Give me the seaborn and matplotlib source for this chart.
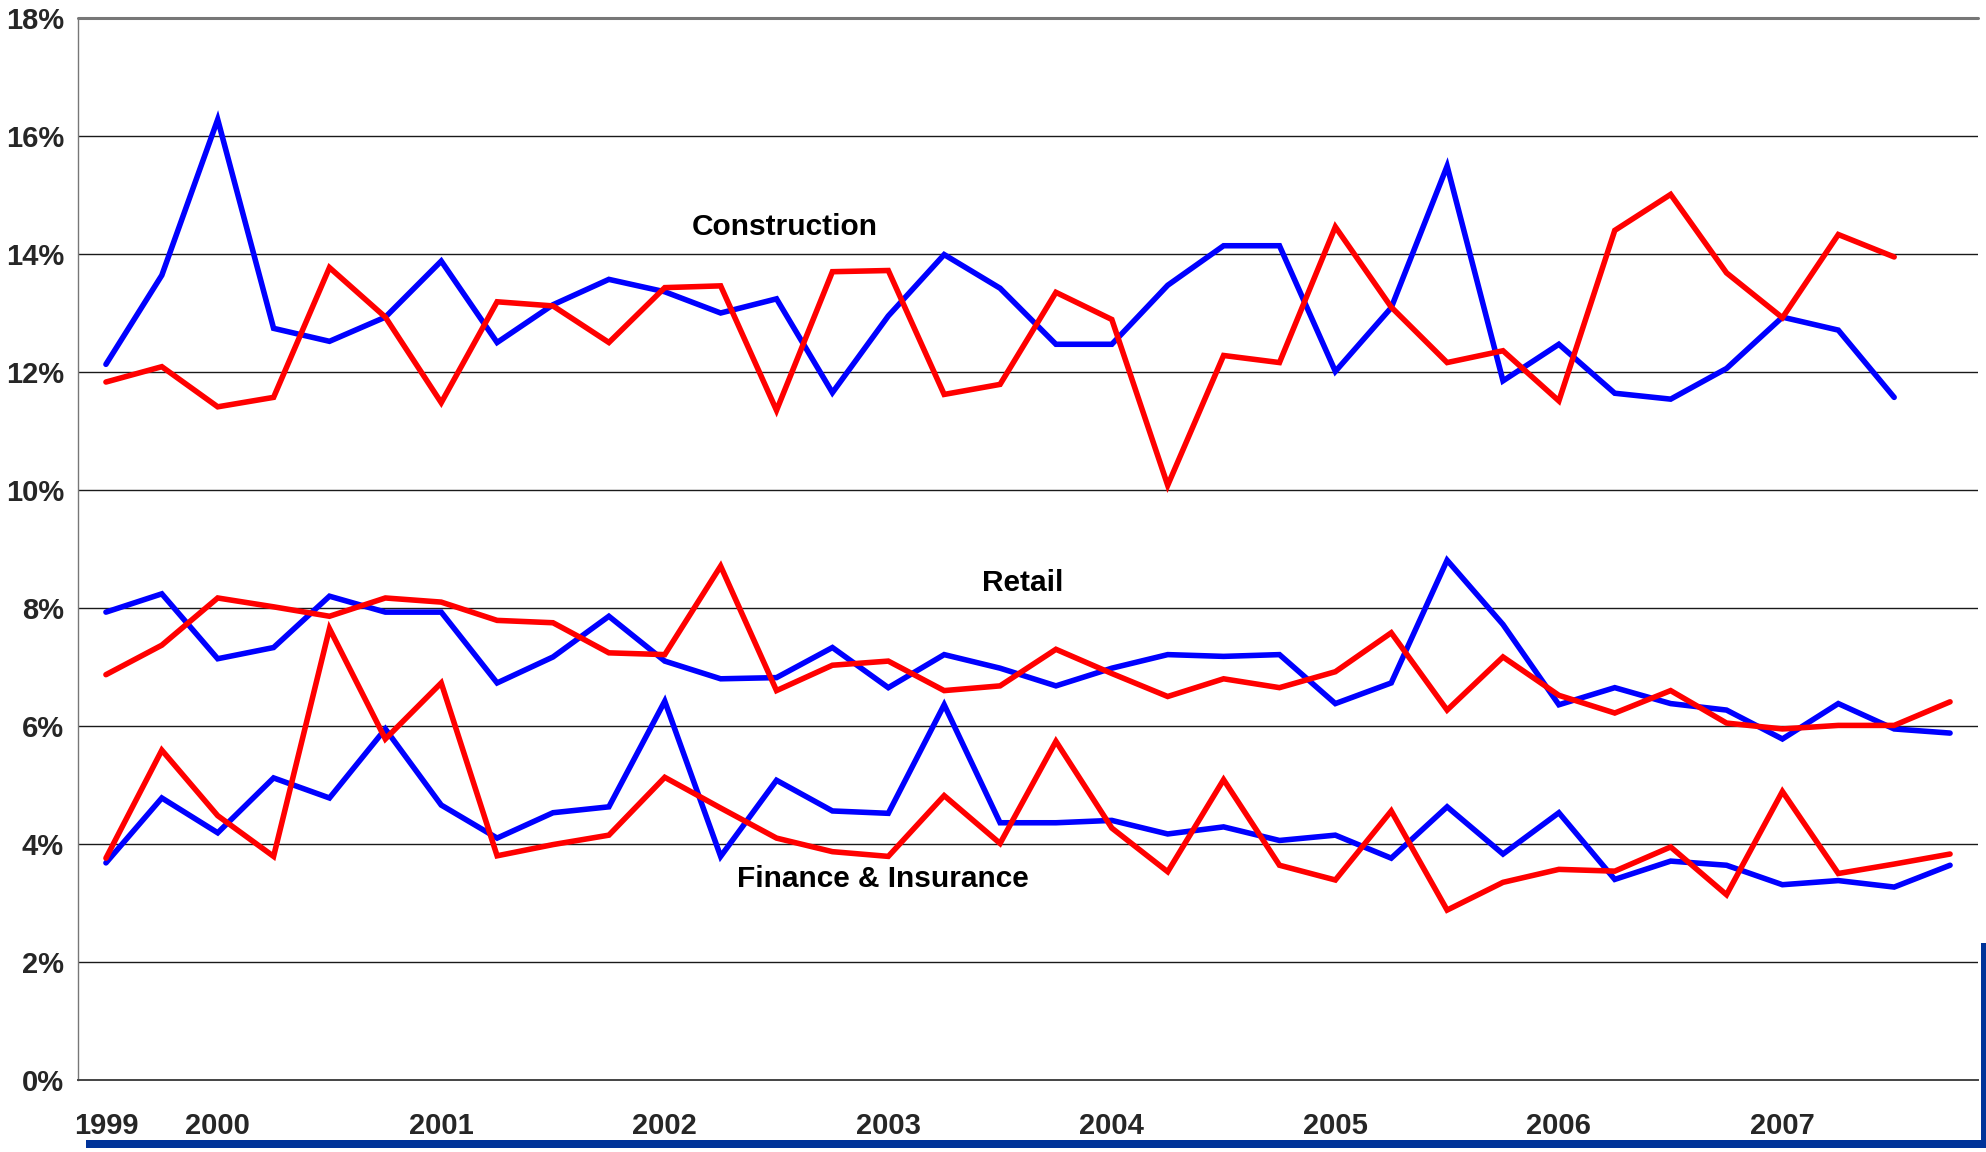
import matplotlib
matplotlib.use("Agg")
import matplotlib.pyplot as plt
from matplotlib.patches import Rectangle
import seaborn as sns
import numpy as np
import pandas as pd

# quarterly shares, 1999Q3 .. 2007Q4 (percent)
quarters = [f"{y}Q{q}" for y in range(1999, 2008) for q in range(1, 5)][2:]

constr_blue = [12.13, 13.64, 16.28, 12.74, 12.52, 12.93, 13.88, 12.50, 13.14, 13.57, 13.36,
               13.00, 13.24, 11.65, 12.95, 13.99, 13.42, 12.47, 12.47, 13.47, 14.14, 14.14,
               12.01, 13.09, 15.49, 11.85, 12.47, 11.64, 11.54, 12.06, 12.93, 12.71, 11.57]
constr_red = [11.83, 12.09, 11.41, 11.57, 13.77, 12.93, 11.48, 13.19, 13.12, 12.50, 13.43,
              13.46, 11.35, 13.70, 13.72, 11.62, 11.79, 13.35, 12.89, 10.08, 12.28, 12.16,
              14.46, 13.10, 12.16, 12.36, 11.51, 14.40, 15.01, 13.68, 12.92, 14.33, 13.95]

retail_blue = [7.93, 8.24, 7.14, 7.33, 8.20, 7.93, 7.93, 6.73, 7.17, 7.86, 7.10, 6.80,
               6.82, 7.33, 6.65, 7.21, 6.98, 6.68, 6.98, 7.21, 7.18, 7.21, 6.38, 6.73,
               8.81, 7.72, 6.36, 6.65, 6.38, 6.27, 5.78, 6.38, 5.95, 5.88]
retail_red = [6.87, 7.37, 8.17, 8.02, 7.86, 8.17, 8.10, 7.79, 7.75, 7.24, 7.21, 8.71,
              6.60, 7.03, 7.10, 6.60, 6.68, 7.30, 6.89, 6.50, 6.80, 6.65, 6.92, 7.58,
              6.27, 7.17, 6.52, 6.22, 6.60, 6.05, 5.95, 6.01, 6.01, 6.41]

fin_blue = [3.68, 4.78, 4.19, 5.12, 4.78, 5.95, 4.66, 4.10, 4.53, 4.63, 6.42, 3.79,
            5.08, 4.56, 4.52, 6.36, 4.36, 4.36, 4.40, 4.17, 4.29, 4.06, 4.15, 3.76,
            4.63, 3.83, 4.53, 3.40, 3.71, 3.64, 3.31, 3.38, 3.27, 3.64]
fin_red = [3.76, 5.59, 4.48, 3.79, 7.65, 5.78, 6.73, 3.80, 3.99, 4.15, 5.13, 4.61,
           4.10, 3.87, 3.79, 4.82, 4.01, 5.74, 4.27, 3.53, 5.09, 3.64, 3.39, 4.56,
           2.88, 3.35, 3.57, 3.54, 3.95, 3.14, 4.89, 3.50, 3.66, 3.83]

year_labels = ["1999", "2000", "2001", "2002", "2003", "2004", "2005", "2006", "2007"]
year_pos = [0, 2, 6, 10, 14, 18, 22, 26, 30]

BLUE = "#0000ff"
RED = "#ff0000"
NAVY = "#003399"

sns.set_style("white")
plt.rcParams["font.family"] = ["Liberation Sans", "DejaVu Sans"]
plt.rcParams["font.weight"] = "bold"

fig = plt.figure(figsize=(19.86, 11.52), dpi=100)
ax = fig.add_axes([78 / 1986, 1 - 1080 / 1152, 1900 / 1986, 1062 / 1152])

series = [(constr_blue, BLUE), (constr_red, RED),
          (retail_blue, BLUE), (retail_red, RED),
          (fin_blue, BLUE), (fin_red, RED)]
for vals, col in series:
    df = pd.DataFrame({"q": np.arange(len(vals)), "v": vals})
    sns.lineplot(data=df, x="q", y="v", color=col, linewidth=4.0, ax=ax,
                 solid_capstyle="round", solid_joinstyle="miter")

ax.set_xlim(-0.5, len(quarters) - 0.5)
ax.set_ylim(0, 18)
ax.set_xlabel("")
ax.set_ylabel("")

# horizontal grid
for g in range(2, 18, 2):
    ax.axhline(g, color="#1a1a1a", lw=1.0, zorder=0)
ax.axhline(18, color="#777777", lw=2.2, zorder=0, clip_on=False)

ax.set_yticks(range(0, 19, 2))
ax.set_yticklabels([f"{t}%" for t in range(0, 19, 2)], fontsize=21, fontweight="bold")
ax.tick_params(axis="y", direction="out", length=5, width=1, color="#555555", pad=5)

ax.set_xticks(np.arange(-0.5, len(quarters), 1))
ax.set_xticklabels([])
ax.set_xticks(year_pos, minor=True)
ax.set_xticklabels(year_labels, minor=True, fontsize=21, fontweight="bold")
ax.tick_params(axis="x", which="major", direction="out", length=7, width=1.2, color="#444444")
ax.tick_params(axis="x", which="minor", length=0, pad=23)

for s in ["top", "right"]:
    ax.spines[s].set_visible(False)
ax.spines["left"].set_color("#777777")
ax.spines["left"].set_linewidth(1)
ax.spines["bottom"].set_color("#444444")
ax.spines["bottom"].set_linewidth(1.4)

txt = dict(fontsize=21.5, fontweight="bold", ha="center", va="center", color="black")
ax.text(12.15, 14.45, "Construction", **txt)
ax.text(16.4, 8.42, "Retail", **txt)
ax.text(13.9, 3.41, "Finance & Insurance", **txt)

# slide decoration bars
fig.add_artist(Rectangle((86 / 1986, 1 - 1148 / 1152), 1 - 86 / 1986, 8 / 1152,
                         transform=fig.transFigure, color=NAVY, lw=0))
fig.add_artist(Rectangle((1981 / 1986, 1 - 1148 / 1152), 5 / 1986, 205 / 1152,
                         transform=fig.transFigure, color=NAVY, lw=0))

fig.savefig("out.png", dpi=100)
